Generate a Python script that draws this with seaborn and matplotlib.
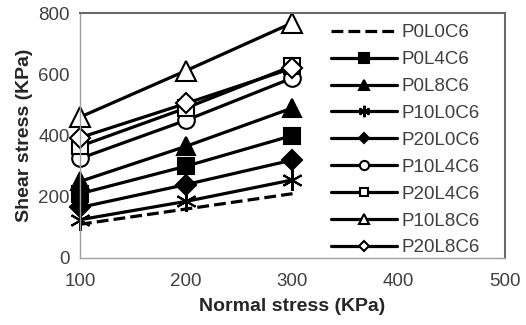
import matplotlib
matplotlib.use("Agg")
import matplotlib.pyplot as plt
import seaborn as sns
import pandas as pd

normal_stress = [100, 200, 300]
series_names = ["P0L0C6", "P0L4C6", "P0L8C6", "P10L0C6", "P20L0C6",
                "P10L4C6", "P20L4C6", "P10L8C6", "P20L8C6"]
P0L0C6 = [110, 160, 210]
P0L4C6 = [210, 300, 400]
P0L8C6 = [250, 365, 490]
P10L0C6 = [125, 185, 255]
P20L0C6 = [165, 240, 320]
P10L4C6 = [325, 450, 588]
P20L4C6 = [365, 490, 627]
P10L8C6 = [460, 612, 768]
P20L8C6 = [393, 505, 620]
values = [P0L0C6, P0L4C6, P0L8C6, P10L0C6, P20L0C6, P10L4C6, P20L4C6, P10L8C6, P20L8C6]

styles = {
    "P0L0C6": dict(marker=None, ls="--", fill=True, ms=0),
    "P0L4C6": dict(marker="s", ls="-", fill=True, ms=12),
    "P0L8C6": dict(marker="^", ls="-", fill=True, ms=13),
    "P10L0C6": dict(marker=(6, 2, 0), ls="-", fill=True, ms=15),
    "P20L0C6": dict(marker="D", ls="-", fill=True, ms=10),
    "P10L4C6": dict(marker="o", ls="-", fill=False, ms=12),
    "P20L4C6": dict(marker="s", ls="-", fill=False, ms=11),
    "P10L8C6": dict(marker="^", ls="-", fill=False, ms=14),
    "P20L8C6": dict(marker="D", ls="-", fill=False, ms=10),
}

sns.set_style("white")
plt.rcParams["font.family"] = ["Liberation Sans", "DejaVu Sans"]

fig = plt.figure(figsize=(5.26, 3.25), dpi=100)
ax = fig.add_axes([80 / 526, 1 - 258 / 325, 425 / 526, 245 / 325])

for name, vals in zip(series_names, values):
    st = styles[name]
    df = pd.DataFrame({"x": normal_stress, "y": vals})
    kw = dict(color="black", linewidth=2.3, linestyle=st["ls"], label=name, clip_on=False)
    if st["marker"] is not None:
        kw.update(marker=st["marker"], markersize=st["ms"],
                  markerfacecolor="black" if st["fill"] else "white",
                  markeredgecolor="black", markeredgewidth=1.5)
    sns.lineplot(data=df, x="x", y="y", ax=ax, **kw)

ax.set_xlim(100, 500)
ax.set_ylim(0, 800)
ax.set_xticks([100, 200, 300, 400, 500])
ax.set_yticks([0, 200, 400, 600, 800])
ax.tick_params(axis="both", labelsize=13.5, labelcolor="#404040", color="#a0a0a0",
               direction="inout", length=5, width=1)
ax.tick_params(axis="x", pad=8)
ax.tick_params(axis="y", pad=5)
ax.set_xlabel("Normal stress (KPa)", fontsize=14, fontweight="bold", color="#262626", labelpad=6)
ax.set_ylabel("Shear stress (KPa)", fontsize=14, fontweight="bold", color="#262626", labelpad=4)

for s in ["left", "bottom"]:
    ax.spines[s].set_color("#a0a0a0")
    ax.spines[s].set_linewidth(1)
for s in ["top", "right"]:
    ax.spines[s].set_color("#6a6a6a")
    ax.spines[s].set_linewidth(1.5)

leg = ax.legend(loc="upper left", bbox_to_anchor=(0.565, 1.0), frameon=False,
                fontsize=13.5, handlelength=3.5, handletextpad=0.25,
                labelspacing=0.52, markerscale=0.55, borderaxespad=0.2)
for t in leg.get_texts():
    t.set_color("#404040")

fig.savefig("out.png", dpi=100)
